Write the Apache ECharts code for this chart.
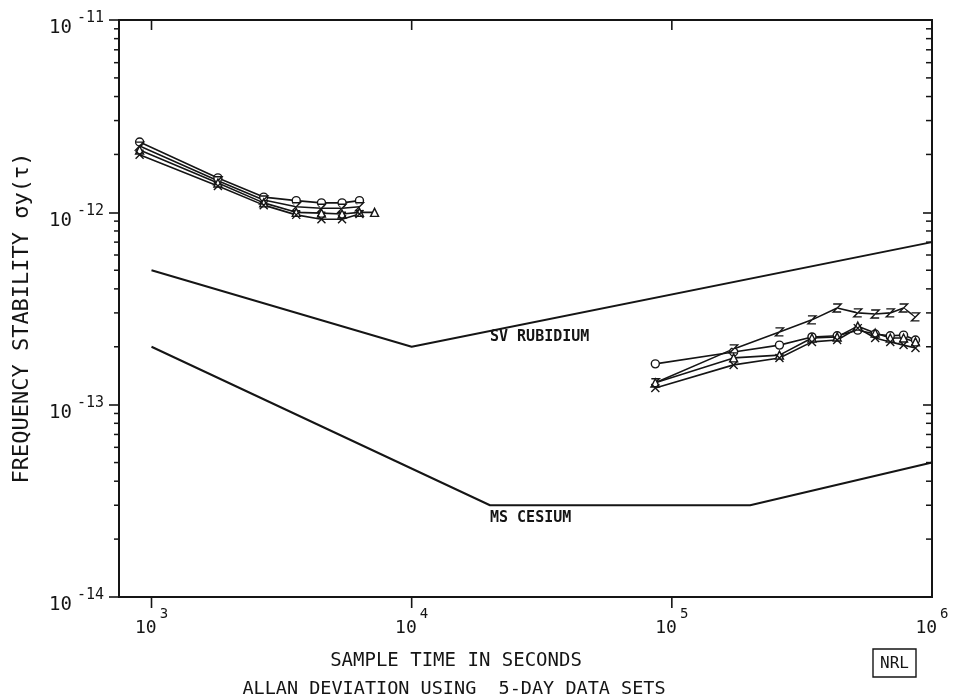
<!DOCTYPE html>
<html>
<head>
<meta charset="utf-8">
<script src="https://cdn.jsdelivr.net/npm/echarts@6/dist/echarts.min.js"></script>
<style>
  html, body { margin: 0; padding: 0; background: #fff; }
  #chart { width: 968px; height: 699px; }
</style>
</head>
<body>
<div id="chart"></div>
<script>
const FONT = '"DejaVu Sans Mono", "Liberation Mono", monospace';
const INK = '#151515';

// Averaging times (s): quarter-hour steps, then whole days
const tauShort = [900, 1800, 2700, 3600, 4500, 5400, 6300];
const tauShortC = [900, 1800, 2700, 3600, 4500, 5400, 6300, 7200];
const tauDays = [86400, 172800, 259200, 345600, 432000, 518400, 604800, 691200, 777600, 864000];

// Allan deviation, four data sets (short tau)
const setA_short = [2.32e-12, 1.51e-12, 1.20e-12, 1.15e-12, 1.12e-12, 1.12e-12, 1.15e-12];
const setB_short = [2.21e-12, 1.46e-12, 1.16e-12, 1.07e-12, 1.05e-12, 1.05e-12, 1.07e-12];
const setC_short = [2.11e-12, 1.42e-12, 1.12e-12, 1.00e-12, 0.99e-12, 0.98e-12, 1.00e-12, 1.00e-12];
const setD_short = [1.99e-12, 1.37e-12, 1.09e-12, 0.97e-12, 0.92e-12, 0.92e-12, 0.98e-12];

// Allan deviation, four data sets (1 to 10 days)
const setA_long = [1.63e-13, 1.88e-13, 2.04e-13, 2.25e-13, 2.28e-13, 2.44e-13, 2.33e-13, 2.28e-13, 2.30e-13, 2.17e-13];
const setB_long = [1.30e-13, 1.95e-13, 2.39e-13, 2.76e-13, 3.18e-13, 3.00e-13, 2.96e-13, 3.00e-13, 3.18e-13, 2.86e-13];
const setC_long = [1.30e-13, 1.75e-13, 1.81e-13, 2.22e-13, 2.25e-13, 2.56e-13, 2.36e-13, 2.22e-13, 2.22e-13, 2.12e-13];
const setD_long = [1.22e-13, 1.61e-13, 1.75e-13, 2.12e-13, 2.17e-13, 2.50e-13, 2.22e-13, 2.12e-13, 2.04e-13, 1.97e-13];

// Specification curves
const rbTau = [1e3, 1e4, 1e6];
const rbSigma = [5e-13, 2e-13, 7e-13];
const csTau = [1e3, 2e4, 2e5, 1e6];
const csSigma = [2e-13, 3e-14, 3e-14, 5e-14];

// Axis ranges and tick values
const X_MIN = 750, X_MAX = 1e6;
const Y_MIN = 1e-14, Y_MAX = 1e-11;
const xMajorTicks = [1e3, 1e4, 1e5];
const yDecades = [1e-14, 1e-13, 1e-12];
const yMinorTicks = [];
yDecades.forEach(d => { for (let m = 2; m <= 9; m++) yMinorTicks.push(m * d); });

const pairs = (xs, ys) => ys.map((y, i) => [xs[i], y]);

const SYM = {
  A: 'circle',
  B: 'path://M1,1 L9,1 L1,9 L9,9',
  C: 'triangle',
  D: 'path://M1,1 L9,9 M9,1 L1,9'
};

function dataSeries(data, sym) {
  return {
    type: 'line',
    data: data,
    symbol: sym,
    symbolSize: 8,
    showAllSymbol: true,
    lineStyle: { color: INK, width: 1.6 },
    itemStyle: { color: '#fff', borderColor: INK, borderWidth: 1.4 },
    z: 4,
    silent: true
  };
}

function expOf(v) {
  const l = Math.log10(v);
  const e = Math.round(l);
  return Math.abs(l - e) < 1e-6 ? e : null;
}

const chart = echarts.init(document.getElementById('chart'), null, { renderer: 'canvas' });

const option = {
  backgroundColor: '#fff',
  animation: false,
  grid: {
    left: 119, right: 36, top: 20, bottom: 102,
    show: true, borderColor: INK, borderWidth: 2, backgroundColor: 'transparent'
  },
  xAxis: {
    type: 'log', logBase: 10, min: X_MIN, max: X_MAX,
    axisLine: { show: false },
    axisTick: { show: false },
    splitLine: { show: false },
    minorTick: { show: false },
    axisLabel: {
      showMinLabel: false,
      margin: 10,
      formatter: v => { const e = expOf(v); return e === null ? '' : '{b|10}{s|' + e + '}'; },
      rich: {
        b: { fontFamily: FONT, fontSize: 18, color: INK, verticalAlign: 'top', lineHeight: 18, padding: [12, 0, 0, 0] },
        s: { fontFamily: FONT, fontSize: 14, color: INK, verticalAlign: 'top', lineHeight: 15, padding: [0, 0, 0, 3] }
      }
    }
  },
  yAxis: [
    {
      type: 'log', logBase: 10, min: Y_MIN, max: Y_MAX, position: 'left',
      axisLine: { show: false },
      axisTick: { show: true, inside: false, length: 10, lineStyle: { color: INK, width: 1.6 } },
      splitLine: { show: false },
      minorTick: { show: false },
      axisLabel: {
        margin: 15,
        formatter: v => { const e = expOf(v); return e === null ? '' : '{b|10}{s|' + e + '}'; },
        rich: {
          b: { fontFamily: FONT, fontSize: 19, color: INK, verticalAlign: 'top', lineHeight: 18, padding: [8, 0, 0, 0] },
          s: { fontFamily: FONT, fontSize: 15, color: INK, verticalAlign: 'top', lineHeight: 15, padding: [0, 0, 0, 5] }
        }
      }
    },
    {
      type: 'log', logBase: 10, min: Y_MIN, max: Y_MAX, position: 'right',
      axisLine: { show: false },
      axisTick: { show: true, inside: true, length: 9, lineStyle: { color: INK, width: 1.6 } },
      splitLine: { show: false },
      minorTick: { show: false },
      axisLabel: { show: false }
    }
  ],
  series: [
    {
      type: 'line', name: 'SV RUBIDIUM', data: pairs(rbTau, rbSigma),
      symbol: 'none', lineStyle: { color: INK, width: 2 }, silent: true, z: 3,
      markPoint: {
        symbol: 'circle', symbolSize: 0, silent: true,
        label: { show: true, position: 'right', distance: 0, formatter: 'SV RUBIDIUM',
                 fontFamily: FONT, fontSize: 15, fontWeight: 'bold', color: INK },
        data: [{ coord: [2e4, 2.25e-13] }]
      }
    },
    {
      type: 'line', name: 'MS CESIUM', data: pairs(csTau, csSigma),
      symbol: 'none', lineStyle: { color: INK, width: 2 }, silent: true, z: 3,
      markPoint: {
        symbol: 'circle', symbolSize: 0, silent: true,
        label: { show: true, position: 'right', distance: 0, formatter: 'MS CESIUM',
                 fontFamily: FONT, fontSize: 15, fontWeight: 'bold', color: INK },
        data: [{ coord: [2e4, 2.58e-14] }]
      }
    },
    dataSeries(pairs(tauShort, setA_short), SYM.A),
    dataSeries(pairs(tauShort, setB_short), SYM.B),
    dataSeries(pairs(tauShortC, setC_short), SYM.C),
    dataSeries(pairs(tauShort, setD_short), SYM.D),
    dataSeries(pairs(tauDays, setA_long), SYM.A),
    dataSeries(pairs(tauDays, setB_long), SYM.B),
    dataSeries(pairs(tauDays, setC_long), SYM.C),
    dataSeries(pairs(tauDays, setD_long), SYM.D),
    {
      // logarithmic minor ticks on the left (outside) and right (inside) frame edges
      type: 'custom', silent: true, clip: false, z: 5,
      data: yMinorTicks.map(v => [X_MIN, v]),
      renderItem: (params, api) => {
        const v = api.value(1);
        const l = api.coord([X_MIN, v]);
        const r = api.coord([X_MAX, v]);
        const st = { stroke: INK, lineWidth: 1.5 };
        return {
          type: 'group',
          children: [
            { type: 'line', shape: { x1: l[0] - 5, y1: l[1], x2: l[0], y2: l[1] }, style: st },
            { type: 'line', shape: { x1: r[0] - 6, y1: r[1], x2: r[0], y2: r[1] }, style: st }
          ]
        };
      }
    },
    {
      // decade ticks on the bottom (outside) and top (inside) frame edges
      type: 'custom', silent: true, clip: false, z: 5,
      data: xMajorTicks.map(v => [v, Y_MIN]),
      renderItem: (params, api) => {
        const v = api.value(0);
        const b = api.coord([v, Y_MIN]);
        const t = api.coord([v, Y_MAX]);
        const st = { stroke: INK, lineWidth: 1.6 };
        return {
          type: 'group',
          children: [
            { type: 'line', shape: { x1: b[0], y1: b[1], x2: b[0], y2: b[1] + 11 }, style: st },
            { type: 'line', shape: { x1: t[0], y1: t[1], x2: t[0], y2: t[1] + 10 }, style: st }
          ]
        };
      }
    }
  ],
  graphic: [
    {
      type: 'text', x: 22, y: 318, rotation: Math.PI / 2,
      style: { text: 'FREQUENCY STABILITY σy(τ)', font: '22px ' + FONT, fill: INK,
               align: 'center', verticalAlign: 'middle' }
    },
    {
      type: 'text', x: 456, y: 661,
      style: { text: 'SAMPLE TIME IN SECONDS', font: '19px ' + FONT, fill: INK,
               align: 'center', verticalAlign: 'middle' }
    },
    {
      type: 'text', x: 454, y: 689,
      style: { text: 'ALLAN DEVIATION USING  5-DAY DATA SETS', font: '18.5px ' + FONT, fill: INK,
               align: 'center', verticalAlign: 'middle' }
    },
    {
      type: 'rect', shape: { x: 873, y: 649, width: 43, height: 28 },
      style: { fill: '#fff', stroke: INK, lineWidth: 1.4 }
    },
    {
      type: 'text', x: 894.5, y: 663.5,
      style: { text: 'NRL', font: '16px ' + FONT, fill: INK, align: 'center', verticalAlign: 'middle' }
    }
  ]
};

chart.setOption(option);
</script>
</body>
</html>
